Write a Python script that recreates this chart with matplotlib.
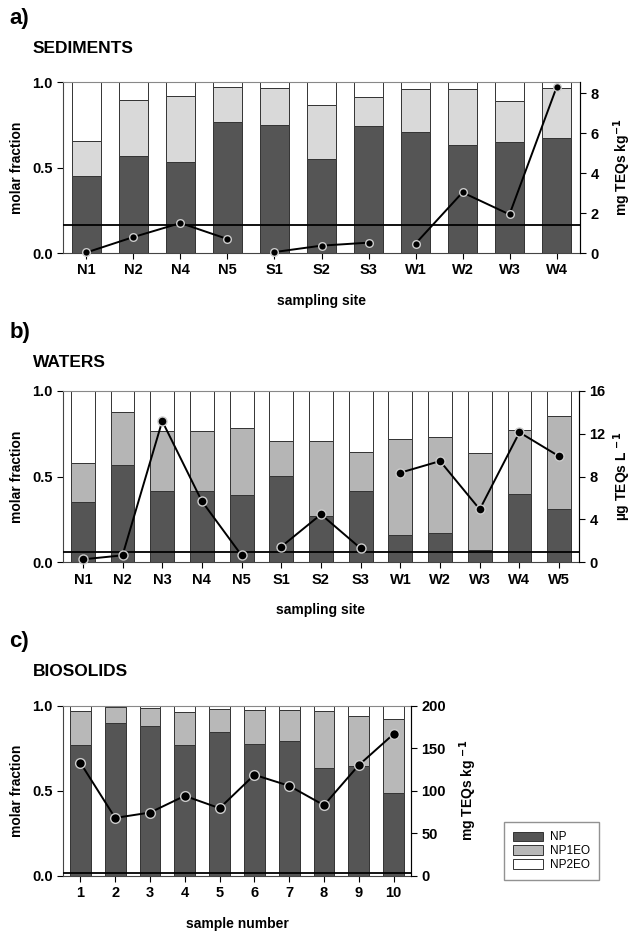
#!/usr/bin/env python3
import numpy as np
import matplotlib
matplotlib.use("Agg")
import matplotlib.pyplot as plt

plt.rcParams['font.family'] = ['Liberation Sans', 'DejaVu Sans']
plt.rcParams['font.weight'] = 'bold'

# a) sediments
sed_sites = ["N1", "N2", "N4", "N5", "S1", "S2", "S3", "W1", "W2", "W3", "W4"]
sed_np = [0.45, 0.567, 0.532, 0.768, 0.749, 0.55, 0.743, 0.708, 0.632, 0.647, 0.673]
sed_np1 = [0.205, 0.326, 0.386, 0.205, 0.218, 0.317, 0.169, 0.249, 0.325, 0.24, 0.294]
sed_teq = [0.03, 0.8, 1.5, 0.7, 0.05, 0.37, 0.52, 0.47, 3.03, 1.93, 8.28]
sed_groups = [[0, 1, 2, 3], [4, 5, 6], [7, 8, 9, 10]]
sed_limit = 1.4

# b) waters
wat_sites = ["N1", "N2", "N3", "N4", "N5", "S1", "S2", "S3", "W1", "W2", "W3", "W4", "W5"]
wat_np = [0.353, 0.567, 0.417, 0.417, 0.392, 0.503, 0.27, 0.415, 0.157, 0.169, 0.072, 0.396, 0.313]
wat_np1 = [0.228, 0.307, 0.348, 0.348, 0.389, 0.206, 0.439, 0.23, 0.56, 0.563, 0.563, 0.377, 0.537]
wat_teq = [0.28, 0.65, 13.17, 5.69, 0.65, 1.46, 4.47, 1.3, 8.36, 9.44, 4.94, 12.12, 9.88]
wat_groups = [[0, 1, 2, 3, 4], [5, 6, 7], [8, 9, 10, 11, 12]]
wat_limit = 0.93

# c) biosolids
bio_samples = ["1", "2", "3", "4", "5", "6", "7", "8", "9", "10"]
bio_np = [0.769, 0.898, 0.882, 0.769, 0.843, 0.775, 0.794, 0.637, 0.645, 0.49]
bio_np1 = [0.202, 0.092, 0.102, 0.194, 0.135, 0.198, 0.182, 0.33, 0.294, 0.432]
bio_teq = [132.9, 68.2, 74.5, 94.1, 79.6, 118.8, 105.9, 83.1, 130.2, 166.7]
bio_groups = [list(range(10))]
bio_limit = 4

DARK = "#555555"
WHITE = "#ffffff"
FIG_H = 931


def panel(ax, labels, np_, np1, teq, groups, limit, light, ymax, yticks,
          rlabel, xlabel, letter, title, ms, rlabel_pad, letter_dy, title_dy):
    x = np.arange(len(labels))
    np_ = np.array(np_)
    np1 = np.array(np1)
    np2 = 1 - np_ - np1
    kw = dict(width=0.6, edgecolor="#333333", linewidth=0.7, zorder=2)
    ax.bar(x, np_, color=DARK, label="NP", **kw)
    ax.bar(x, np1, bottom=np_, color=light, label="NP1EO", **kw)
    ax.bar(x, np2, bottom=np_ + np1, color=WHITE, label="NP2EO", **kw)
    ax.set_xlim(-0.5, len(labels) - 0.5)
    ax.set_ylim(0, 1)
    ax.set_yticks([0, 0.5, 1.0])
    ax.set_yticklabels(["0.0", "0.5", "1.0"])
    ax.set_xticks(x)
    ax.set_xticklabels(labels)
    ax.tick_params(labelsize=10.5, length=4, width=0.8, direction="out")
    ax.set_ylabel("molar fraction", fontsize=10, fontweight="bold", labelpad=6)
    ax.set_xlabel(xlabel, fontsize=10, fontweight="bold", labelpad=12)
    for s in ax.spines.values():
        s.set_linewidth(0.8)
        s.set_color("#444444")
    ax.spines["top"].set_color("#888888")

    ax2 = ax.twinx()
    ax2.set_ylim(0, ymax)
    ax2.set_yticks(yticks)
    ax2.tick_params(labelsize=10.5, length=4, width=0.8, direction="out")
    ax2.axhline(limit, color="black", linewidth=1.3, zorder=3)
    for g in groups:
        ax2.plot(x[g], np.array(teq)[g], color="black", linewidth=1.4,
                 marker="o", markersize=ms, markerfacecolor="black",
                 markeredgecolor="#cccccc", markeredgewidth=1.0, zorder=4,
                 clip_on=False)
    ax2.set_ylabel(rlabel, fontsize=10, fontweight="bold", labelpad=rlabel_pad)
    for s in ax2.spines.values():
        s.set_visible(False)
    ax2.spines["right"].set_visible(True)
    ax2.spines["right"].set_linewidth(0.8)

    fig = ax.figure
    pos = ax.get_position()
    fig.text(0.015, pos.y1 + letter_dy / FIG_H, letter, fontsize=16,
             fontweight="bold", va="center")
    fig.text(0.052, pos.y1 + title_dy / FIG_H, title, fontsize=12.5,
             fontweight="bold", va="center")
    return ax, ax2


fig = plt.figure(figsize=(6.35, 9.31), dpi=100)
axa = fig.add_axes([0.0992, 0.7282, 0.8142, 0.1837])
axb = fig.add_axes([0.0992, 0.3960, 0.8126, 0.1843])
axc = fig.add_axes([0.0992, 0.0591, 0.5480, 0.1829])

panel(axa, sed_sites, sed_np, sed_np1, sed_teq, sed_groups, sed_limit, "#d9d9d9",
      8.55, [0, 2, 4, 6, 8], r"mg TEQs kg$^{\mathbf{-1}}$", "sampling site", "a)",
      "SEDIMENTS", 5.5, 9, 64, 34)
panel(axb, wat_sites, wat_np, wat_np1, wat_teq, wat_groups, wat_limit, "#b5b5b5",
      16, [0, 4, 8, 12, 16], "\u00b5g TEQs L $^{\\mathbf{-1}}$", "sampling site", "b)",
      "WATERS", 6.5, 4, 58, 28)
_, axc2 = panel(axc, bio_samples, bio_np, bio_np1, bio_teq, bio_groups, bio_limit,
                "#b8b8b8", 200, [0, 50, 100, 150, 200],
                "mg TEQs kg $^{\\mathbf{-1}}$", "sample number", "c)", "BIOSOLIDS",
                7, 8, 64, 34)

handles, labels = axc.get_legend_handles_labels()
leg = fig.legend(handles, labels, loc="lower left", bbox_to_anchor=(0.784, 0.048),
                 prop={"weight": "normal", "size": 8.5}, frameon=True, fancybox=False,
                 edgecolor="#777777", handlelength=2.5, handleheight=0.85,
                 labelspacing=0.15, borderpad=0.8, handletextpad=0.6)
leg.get_frame().set_linewidth(1.0)

fig.savefig("out.png", dpi=100)
